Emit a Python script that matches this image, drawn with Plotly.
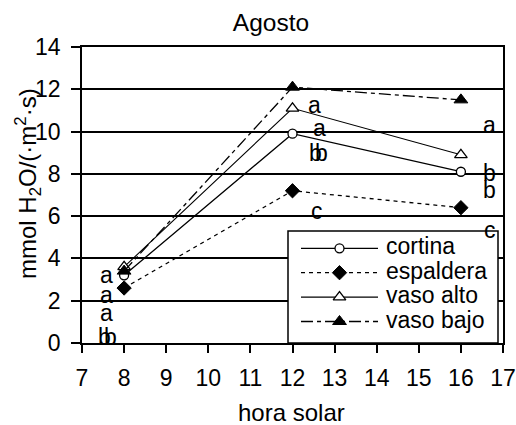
import plotly.graph_objects as go

# Hour of day (solar time) at which conductance was measured
hours = [8, 12, 16]

# Stomatal conductance, mmol H2O/(m2 s), per training system
series_names = ["cortina", "espaldera", "vaso alto", "vaso bajo"]
cortina = [3.2, 9.9, 8.1]
espaldera = [2.6, 7.2, 6.4]
vaso_alto = [3.6, 11.1, 8.9]
vaso_bajo = [3.4, 12.1, 11.5]

# Significance letters (text, x, y)
sig_letters = ["a", "a", "a", "b", "b",
               "a", "a", "b", "b", "c",
               "a", "b", "b", "c"]
sig_x = [7.57, 7.57, 7.57, 7.53, 7.67,
         12.53, 12.64, 12.54, 12.68, 12.57,
         16.69, 16.69, 16.69, 16.69]
sig_y = [3.12, 2.18, 1.31, 0.21, 0.21,
         11.16, 10.06, 8.91, 8.91, 6.15,
         10.22, 7.93, 7.14, 5.24]

x_ticks = list(range(7, 18))
y_ticks = list(range(0, 15, 2))
X_RANGE = [7, 17]
Y_RANGE = [0, 14]

FONT = "Liberation Sans, Arial, sans-serif"
FS = 23

# plot frame in pixels (516 x 425 figure)
W, H = 516, 425
PL, PR, PT, PB = 82, 503, 47, 343


def fx(px):
    return (px - PL) / (PR - PL)


def fy(py):
    return (PB - py) / (PB - PT)


def dx(px):
    return X_RANGE[0] + fx(px) * (X_RANGE[1] - X_RANGE[0])


def dy(py):
    return Y_RANGE[0] + fy(py) * (Y_RANGE[1] - Y_RANGE[0])


styles = {
    "cortina": dict(line=dict(color="black", width=1.3),
                    marker=dict(symbol="circle", size=9, color="white",
                                line=dict(color="black", width=1.3))),
    "espaldera": dict(line=dict(color="black", width=1.3, dash="4px,4px"),
                      marker=dict(symbol="diamond", size=11, color="black",
                                  line=dict(color="black", width=1))),
    "vaso alto": dict(line=dict(color="black", width=1.1),
                      marker=dict(symbol="triangle-up", size=11, color="white",
                                  line=dict(color="black", width=1.3))),
    "vaso bajo": dict(line=dict(color="black", width=1.3,
                                dash="12px,4px,4px,4px"),
                      marker=dict(symbol="triangle-up", size=12, color="black",
                                  line=dict(color="black", width=1))),
}
values = {"cortina": cortina, "espaldera": espaldera,
          "vaso alto": vaso_alto, "vaso bajo": vaso_bajo}

fig = go.Figure()

for name in series_names:
    st = styles[name]
    fig.add_trace(go.Scatter(
        x=hours, y=values[name], name=name, mode="lines+markers",
        line=st["line"], marker=st["marker"], showlegend=False,
    ))

# legend: white framed box with sample line + marker and label per series
box_x0, box_x1, box_top = 288, 498, 231
row0, row_step = 248.3, 24.4
samp_x0, samp_x1, text_x = 301, 378, 384

shapes = [dict(
    type="rect", xref="x", yref="y", layer="between",
    x0=dx(box_x0), x1=dx(box_x1), y0=dy(PB), y1=dy(box_top),
    fillcolor="white", line=dict(color="black", width=1.5),
)]

annotations = []
for i, name in enumerate(series_names):
    st = styles[name]
    py = row0 + i * row_step
    fig.add_trace(go.Scatter(
        x=[dx(samp_x0), dx(samp_x1)], y=[dy(py)] * 2, mode="lines",
        line=st["line"], showlegend=False, hoverinfo="skip",
    ))
    fig.add_trace(go.Scatter(
        x=[dx((samp_x0 + samp_x1) / 2)], y=[dy(py)], mode="markers",
        marker=st["marker"], showlegend=False, hoverinfo="skip",
    ))
    annotations.append(dict(
        x=fx(text_x), y=fy(py), xref="paper", yref="paper", text=name,
        showarrow=False, xanchor="left", yanchor="middle", yshift=2,
        font=dict(family=FONT, size=FS, color="black"),
    ))

for t, xv, yv in zip(sig_letters, sig_x, sig_y):
    annotations.append(dict(
        x=xv, y=yv, xref="x", yref="y", text=t, showarrow=False,
        font=dict(family=FONT, size=FS, color="black"),
        xanchor="center", yanchor="middle", yshift=2,
    ))

# axis titles
annotations.append(dict(
    x=fx(291), y=fy(412), xref="paper", yref="paper", text="hora solar",
    showarrow=False, xanchor="center", yanchor="middle",
    font=dict(family=FONT, size=24, color="black"),
))
annotations.append(dict(
    x=fx(28), y=fy(184), xref="paper", yref="paper",
    text="mmol H<sub>2</sub>O/(·m<sup>2</sup>·s)", textangle=-90,
    showarrow=False, xanchor="center", yanchor="middle",
    font=dict(family=FONT, size=24, color="black"),
))

fig.update_layout(
    width=W, height=H,
    margin=dict(l=PL, r=W - PR, t=PT, b=H - PB),
    paper_bgcolor="white", plot_bgcolor="white",
    font=dict(family=FONT, size=FS, color="black"),
    title=dict(text="Agosto", x=271 / W, xanchor="center",
               y=1 - 22 / H, yanchor="middle",
               font=dict(family=FONT, size=24.5, color="black")),
    annotations=annotations,
    shapes=shapes,
    showlegend=False,
    xaxis=dict(
        range=X_RANGE, tickvals=x_ticks, ticks="outside", ticklen=8,
        tickwidth=1.5, tickcolor="black", showgrid=False,
        showline=True, linecolor="black", linewidth=1.5, mirror=True,
        zeroline=False, tickfont=dict(family=FONT, size=FS),
        ticklabelstandoff=6, automargin=False,
    ),
    yaxis=dict(
        range=Y_RANGE, tickvals=y_ticks, ticks="outside", ticklen=9,
        tickwidth=1.5, tickcolor="black", showgrid=True,
        gridcolor="black", gridwidth=1.5,
        showline=True, linecolor="black", linewidth=1.5, mirror=True,
        zeroline=False, tickfont=dict(family=FONT, size=FS),
        ticklabelstandoff=6, automargin=False,
    ),
)

fig.write_html("out.html")
